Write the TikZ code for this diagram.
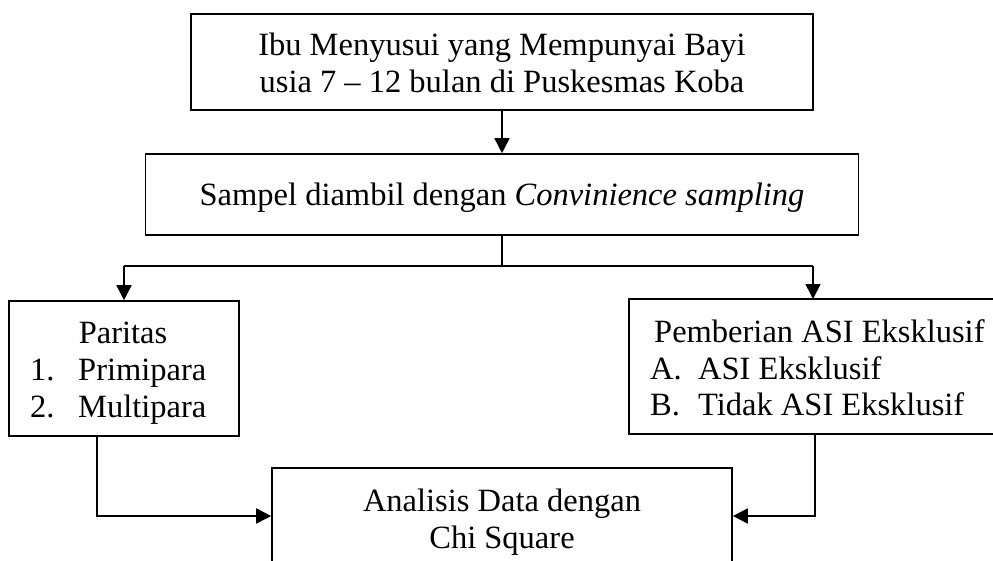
\documentclass[tikz,border=0pt]{standalone}
\usepackage{fontspec}
\setmainfont{Liberation Serif}
\usetikzlibrary{arrows.meta}
\begin{document}
\begin{tikzpicture}[x=1pt,y=1pt,
 box/.style={draw, line width=1.6pt, rectangle, inner sep=0pt},
 txt/.style={anchor=base, inner sep=0pt, font=\fontsize{32.5}{37}\selectfont},
 ltxt/.style={anchor=base west, inner sep=0pt, font=\fontsize{32.5}{37}\selectfont},
 arr/.style={line width=1.6pt, -{Triangle[length=15pt,width=15pt]}},
 ln/.style={line width=1.6pt}]
\useasboundingbox (0,0) rectangle (993,-560);
\clip (0,0) rectangle (993,-560);
% boxes
\node[box, minimum width=622pt, minimum height=96pt] (pop) at (502,-62) {};
\node[box, minimum width=713pt, minimum height=81pt] (samp) at (502,-194.5) {};
\node[box, minimum width=230pt, minimum height=135pt] (par) at (124,-368.5) {};
\node[box, minimum width=381pt, minimum height=135pt] (asi) at (819.5,-366.5) {};
\node[box, minimum width=460pt, minimum height=96pt] (anal) at (502,-516) {};
% texts
\node[txt] (t1) at (502,-55) {Ibu Menyusui yang Mempunyai Bayi};
\node[txt] (t2) at (502,-92) {usia 7 – 12 bulan di Puskesmas Koba};
\node[txt] (t3) at (502,-205) {Sampel diambil dengan \textit{Convinience sampling}};
\node[txt] (t4) at (123,-343) {Paritas};
\node[ltxt] (t5) at (30,-380) {1.};
\node[ltxt] (t6) at (78,-380) {Primipara};
\node[ltxt] (t7) at (30,-417) {2.};
\node[ltxt] (t8) at (78,-417) {Multipara};
\node[ltxt] (t9) at (654,-342) {Pemberian ASI Eksklusif};
\node[ltxt] (t10) at (650,-379) {A.};
\node[ltxt] (t11) at (698,-379) {ASI Eksklusif};
\node[ltxt] (t12) at (650,-415) {B.};
\node[ltxt] (t13) at (698,-415) {Tidak ASI Eksklusif};
\node[txt] (t14) at (502,-511) {Analisis Data dengan};
\node[txt] (t15) at (502,-548) {Chi Square};
% connectors
\coordinate (br) at (502,-266);
\coordinate (brl) at (124,-266);
\coordinate (brr) at (813,-266);
\coordinate (asin) at (813,-299);
\coordinate (pout) at (97,-436);
\coordinate (aout) at (815,-434);
\draw[arr] (pop.south) -- (samp.north);
\draw[ln] (samp.south) -- (br);
\draw[ln] (brl) -- (brr);
\draw[arr] (brl) -- (par.north);
\draw[arr] (brr) -- (asin);
\draw[arr] (pout) |- (anal.west);
\draw[arr] (aout) |- (anal.east);
\end{tikzpicture}
\end{document}
